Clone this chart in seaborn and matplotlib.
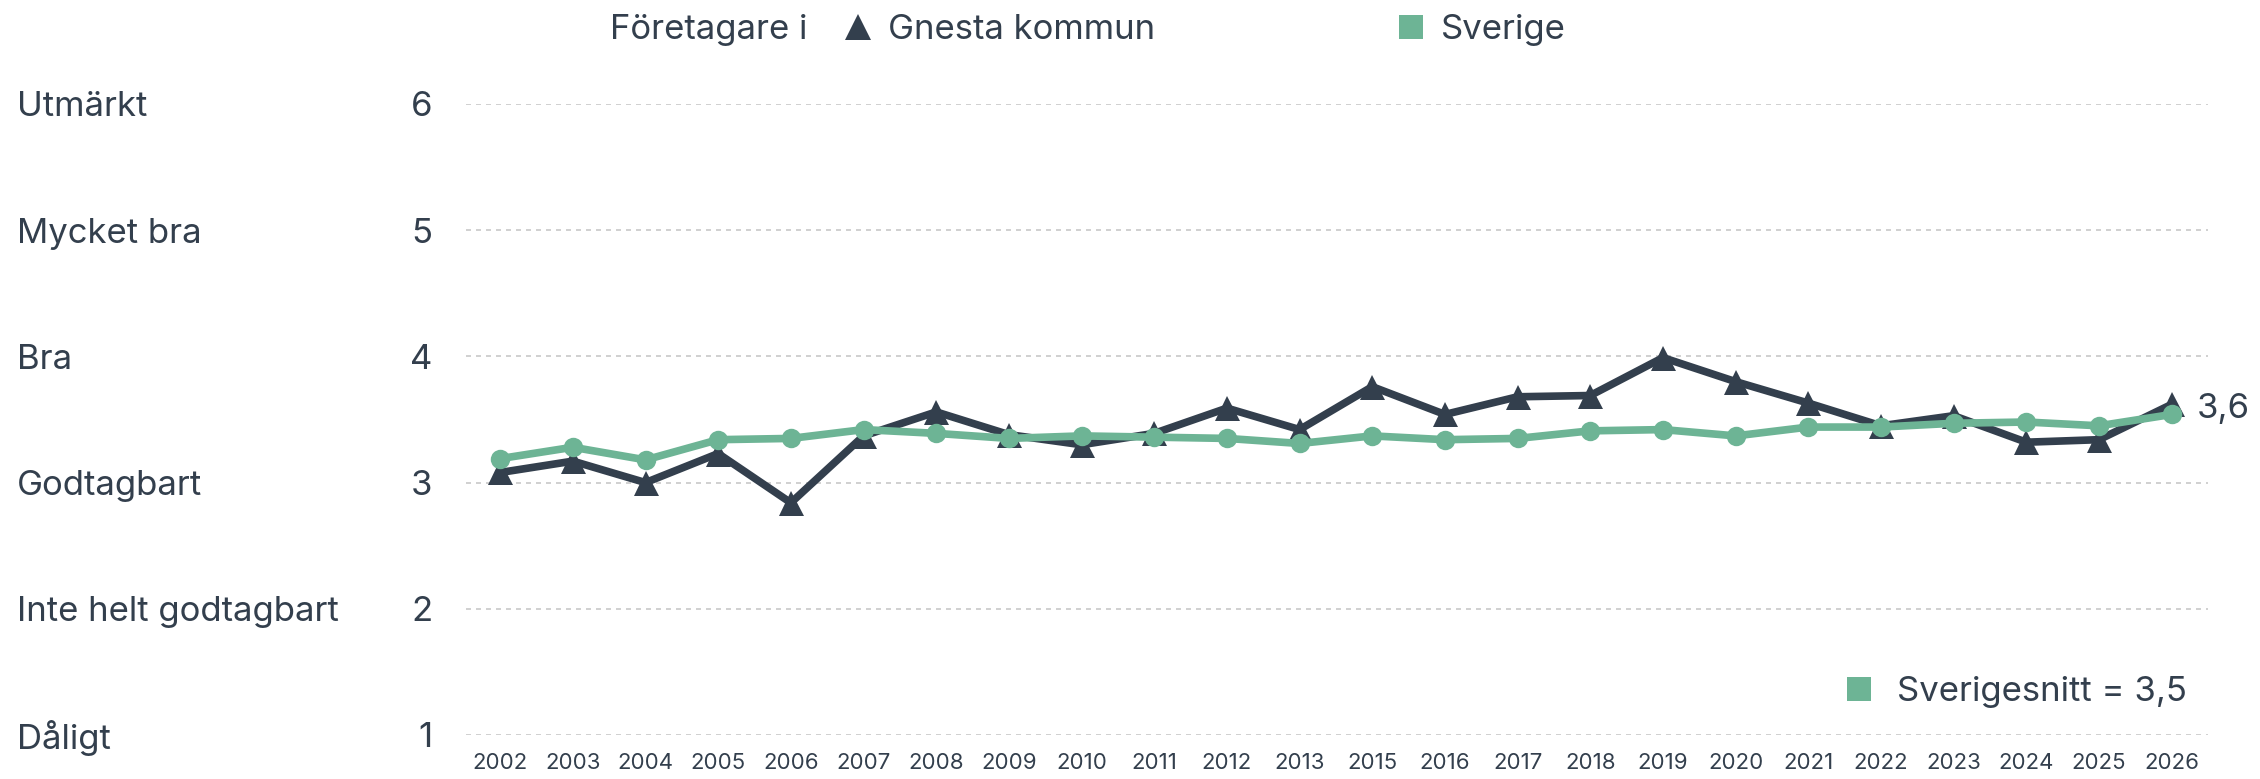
"""
Nöjdhet bland företagare: Gnesta kommun jämfört med Sverige, 2002-2026.
"""
import pandas as pd
import matplotlib
matplotlib.use("Agg")
import matplotlib.pyplot as plt
from matplotlib.lines import Line2D
import seaborn as sns

# Data
years = ["2002", "2003", "2004", "2005", "2006", "2007", "2008", "2009",
         "2010", "2011", "2012", "2013", "2015", "2016", "2017", "2018",
         "2019", "2020", "2021", "2022", "2023", "2024", "2025", "2026"]
gnesta = [3.08, 3.17, 3.00, 3.23, 2.84, 3.37, 3.56, 3.38, 3.30, 3.39, 3.59,
          3.42, 3.76, 3.54, 3.68, 3.69, 3.99, 3.80, 3.63, 3.45, 3.53, 3.32,
          3.34, 3.62]
sverige = [3.19, 3.28, 3.18, 3.34, 3.35, 3.42, 3.39, 3.35, 3.37, 3.36, 3.35,
           3.31, 3.37, 3.34, 3.35, 3.41, 3.42, 3.37, 3.44, 3.44, 3.47, 3.48,
           3.45, 3.54]
grade_values = [1, 2, 3, 4, 5, 6]
grade_labels = ["Dåligt", "Inte helt godtagbart", "Godtagbart", "Bra",
                "Mycket bra", "Utmärkt"]
gnesta_last = "3,6"
sverige_avg = "Sverigesnitt = 3,5"

DARK = "#333f4d"
GREEN = "#6db495"
GRID = "#c8c8c8"

sns.set_theme(style="white")
plt.rcParams["font.family"] = ["Inter", "DejaVu Sans"]

df = pd.DataFrame({"pos": range(len(years)), "year": years,
                   "Gnesta kommun": gnesta, "Sverige": sverige})

fig = plt.figure(figsize=(22.6, 7.79), dpi=100)
ax = fig.add_axes([0.2062, 0.0565, 0.7708, 0.81])

sns.lineplot(data=df, x="pos", y="Gnesta kommun", ax=ax, color=DARK,
             lw=5.5, marker="^", markersize=18, markeredgewidth=0,
             clip_on=False)
sns.lineplot(data=df, x="pos", y="Sverige", ax=ax, color=GREEN,
             lw=5.5, marker="o", markersize=14, markeredgewidth=0,
             clip_on=False)

ax.set_xlim(-0.47, len(years) - 0.5)
ax.set_ylim(1, 6)
sns.despine(ax=ax, left=True, bottom=True)
ax.yaxis.grid(True, linestyle=(0, (3, 3)), color=GRID, lw=1.2)
ax.xaxis.grid(False)
ax.set_xlabel("")
ax.set_ylabel("")

ax.set_xticks(df["pos"])
ax.set_xticklabels(years, fontsize=16, color=DARK)
ax.set_yticks(grade_values)
ax.set_yticklabels([str(v) for v in grade_values], fontsize=25, color=DARK)
ax.tick_params(axis="x", length=0, pad=13)
ax.tick_params(axis="y", length=0, pad=24)

for v, lab in zip(grade_values, grade_labels):
    ax.text(-0.2577, v, lab, transform=ax.get_yaxis_transform(),
            ha="left", va="center_baseline", fontsize=25, color=DARK)

# end label
ax.annotate(gnesta_last, xy=(df["pos"].iloc[-1], gnesta[-1]),
            xytext=(18, -3), textcoords="offset points", ha="left",
            va="center", fontsize=25, color=DARK)

# top legend
fig.text(0.27, 0.9615, "Företagare i", ha="left", va="center",
         fontsize=25, color=DARK)
top_handles = [
    Line2D([], [], marker="^", color=DARK, ls="none", ms=19, mew=0),
    Line2D([], [], marker="s", color=GREEN, ls="none", ms=17, mew=0),
]
fig.legend(top_handles, ["Gnesta kommun", "Sverige"], loc="center left",
           bbox_to_anchor=(0.372, 0.9615), ncol=2, frameon=False,
           fontsize=25, handlelength=1, handletextpad=0.37,
           columnspacing=6.85, borderpad=0, borderaxespad=0,
           labelcolor=DARK)

# bottom legend
fig.legend([Line2D([], [], marker="s", color=GREEN, ls="none", ms=17, mew=0)],
           [sverige_avg], loc="center left",
           bbox_to_anchor=(0.815, 0.1117), frameon=False, fontsize=25,
           handlelength=1, handletextpad=0.6, borderpad=0, borderaxespad=0,
           labelcolor=DARK)

fig.savefig("out.png", dpi=100)
